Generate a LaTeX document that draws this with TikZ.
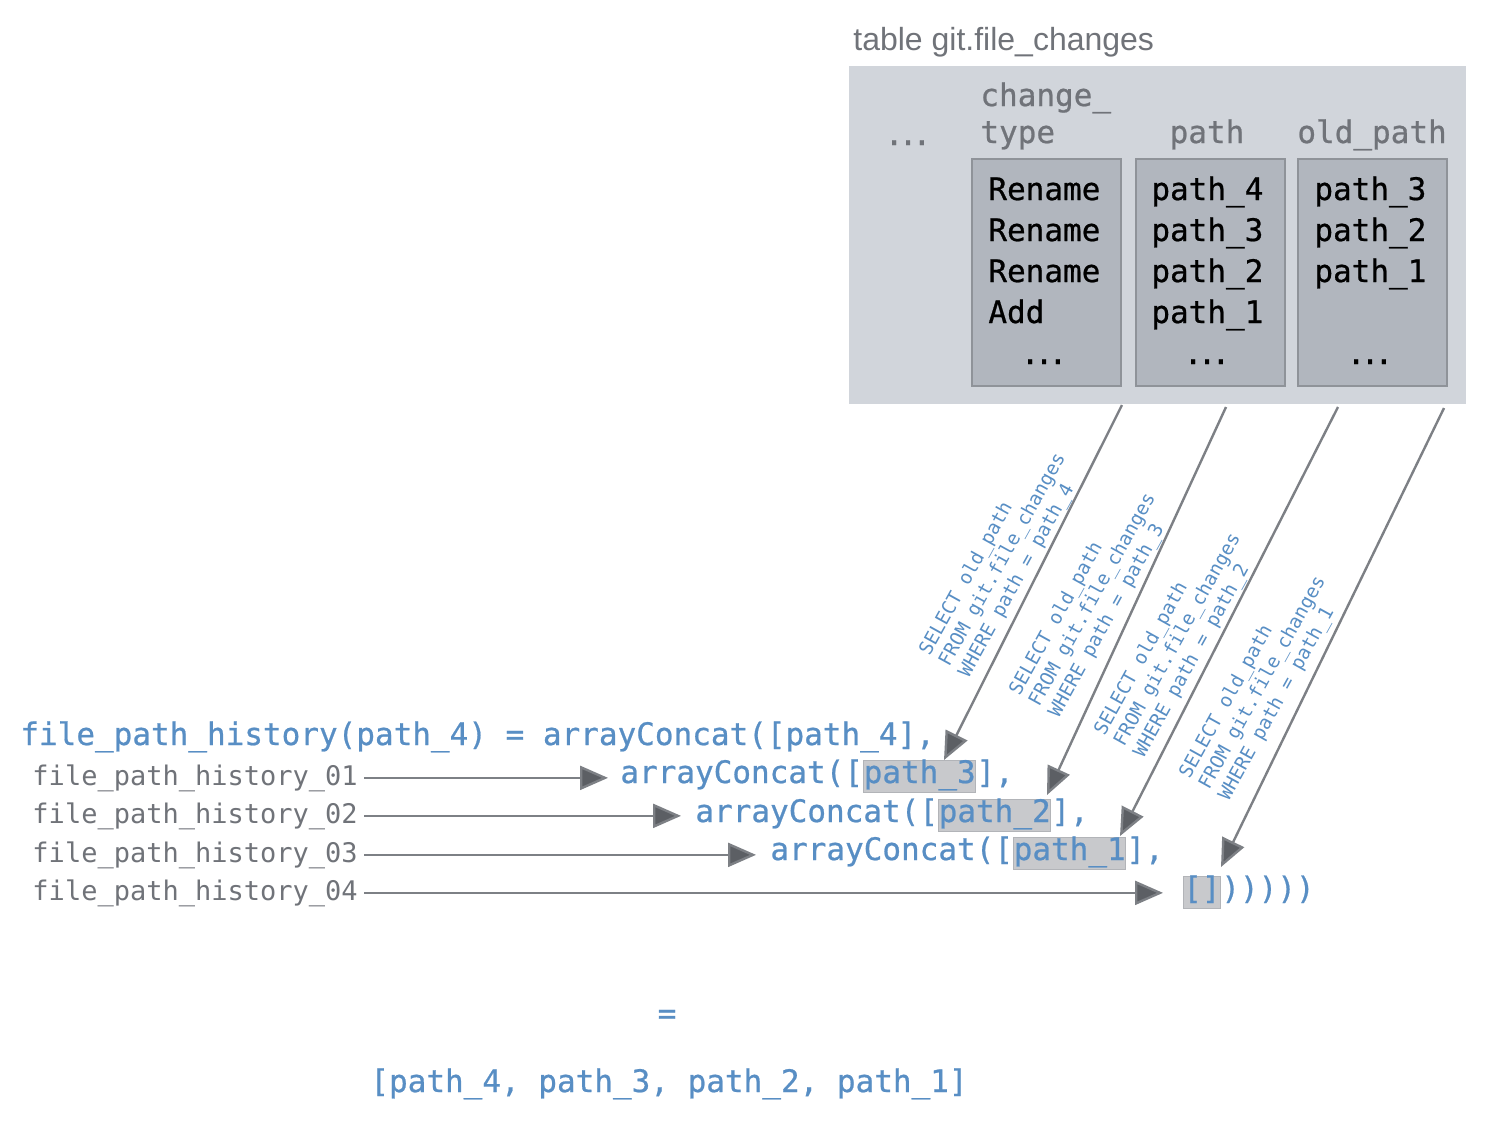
\documentclass[tikz,border=0pt]{standalone}
\usepackage{fontspec}
\setmainfont{Liberation Sans}
\newfontfamily\mono[FakeBold=0.7]{DejaVu Sans Mono}
\newfontfamily\monol{DejaVu Sans Mono}
\usetikzlibrary{arrows.meta}
\definecolor{bgc}{RGB}{209,213,219}
\definecolor{colc}{RGB}{177,182,190}
\definecolor{colb}{RGB}{143,147,153}
\definecolor{hdrc}{RGB}{112,115,121}
\definecolor{bluec}{RGB}{88,142,196}
\definecolor{hlc}{RGB}{200,201,204}
\definecolor{hlb}{RGB}{178,180,184}
\definecolor{linec}{RGB}{125,128,133}
\definecolor{headc}{RGB}{92,95,100}
\newcommand{\dotsx}{.\kern-2.4pt.\kern-2.4pt.}
\begin{document}
\begin{tikzpicture}[x=0.5pt,y=-0.5pt,
  big/.style={font=\mono\fontsize{15.5}{18}\selectfont, inner sep=0pt, anchor=base west},
  bluet/.style={big, text=bluec},
  hdr/.style={big, text=hdrc},
  cell/.style={big, text=black},
  lbl/.style={font=\monol\fontsize{13.5}{16}\selectfont, inner sep=0pt, anchor=base east, text=hdrc},
  hl/.style={bluet, fill=hlc, draw=hlb, line width=0.3pt, text height=11.5pt, text depth=4.5pt},
  colbox/.style={fill=colc, draw=colb, line width=0.8pt, anchor=north west, minimum width=74.5pt, minimum height=113.5pt, inner sep=0pt},
  sql/.style={font=\monol\fontsize{9.5}{11.2}\selectfont, text=bluec, align=left, inner sep=0pt, rotate=61},
  conn/.style={draw=linec, line width=1.2pt, -{Triangle[length=14pt,width=12pt,fill=headc]}},
]
\useasboundingbox (0,0) rectangle (1487,1121);

% table
\node[font=\fontsize{16}{19}\selectfont, text=hdrc, inner sep=0pt, anchor=base west] (title) at (853,50) {table git.file\_changes};
\node[fill=bgc, minimum width=308.5pt, minimum height=169pt, inner sep=0pt, anchor=north west] (tbl) at (849,66) {};
\node[colbox] (c1) at (971,158) {};
\node[colbox] (c2) at (1135,158) {};
\node[colbox] (c3) at (1297,158) {};

\node[hdr, anchor=base] (hdots) at (908,145) {\dotsx};
\node[hdr] (hct1) at (980,106) {change\_};
\node[hdr] (hct2) at (980,143) {type};
\node[hdr, anchor=base] (hpath) at (1207,143) {path};
\node[hdr] (hold) at (1297,143) {old\_path};

\node[cell] (r11) at (988,200) {Rename};
\node[cell] (r12) at (988,241) {Rename};
\node[cell] (r13) at (988,282) {Rename};
\node[cell] (r14) at (988,323) {Add};
\node[cell, anchor=base] (r15) at (1044,364) {\dotsx};

\node[cell] (r21) at (1151,200) {path\_4};
\node[cell] (r22) at (1151,241) {path\_3};
\node[cell] (r23) at (1151,282) {path\_2};
\node[cell] (r24) at (1151,323) {path\_1};
\node[cell, anchor=base] (r25) at (1207,364) {\dotsx};

\node[cell] (r31) at (1314,200) {path\_3};
\node[cell] (r32) at (1314,241) {path\_2};
\node[cell] (r33) at (1314,282) {path\_1};
\node[cell, anchor=base] (r35) at (1370,364) {\dotsx};

% expression
\node[bluet] (l0) at (20,745) {file\_path\_history(path\_4) = arrayConcat([path\_4],};

\node[bluet] (ac3) at (620,783) {arrayConcat([};
\node[hl] (hl3) at (ac3.base east) {path\_3};
\node[bluet] (t3) at (hl3.base east) {],};

\node[bluet] (ac2) at (695,822) {arrayConcat([};
\node[hl] (hl2) at (ac2.base east) {path\_2};
\node[bluet] (t2) at (hl2.base east) {],};

\node[bluet] (ac1) at (770,860) {arrayConcat([};
\node[hl] (hl1) at (ac1.base east) {path\_1};
\node[bluet] (t1) at (hl1.base east) {],};

\node[hl] (hl0) at (1183,899) {[]};
\node[bluet] (t0) at (hl0.base east) {)))))};

% labels
\node[lbl] (h01) at (358,785) {file\_path\_history\_01};
\node[lbl] (h02) at (358,823) {file\_path\_history\_02};
\node[lbl] (h03) at (358,862) {file\_path\_history\_03};
\node[lbl] (h04) at (358,900) {file\_path\_history\_04};

\draw[conn, shorten <=3pt, shorten >=6pt] (h01.east) -- (h01.east -| ac3.west);
\draw[conn, shorten <=3pt, shorten >=7pt] (h02.east) -- (h02.east -| ac2.west);
\draw[conn, shorten <=3pt, shorten >=7pt] (h03.east) -- (h03.east -| ac1.west);
\draw[conn, shorten <=3pt, shorten >=10pt] (h04.east) -- (h04.east -| hl0.west);

% diagonal connectors
\coordinate (s1) at (1122,405);
\coordinate (s2) at (1226,407);
\coordinate (s3) at (1338,407);
\coordinate (s4) at (1444,408);
\coordinate (e1) at (944,760);
\coordinate (e2) at (1047,795);
\coordinate (e3) at (1120,836);
\coordinate (e4) at (1221,867);
\draw[conn] (s1) -- (e1);
\draw[conn] (s2) -- (e2);
\draw[conn] (s3) -- (e3);
\draw[conn] (s4) -- (e4);

\node[sql] (q1) at (1003,560) {SELECT old\_path\\FROM git.file\_changes\\WHERE path = path\_4};
\node[sql] (q2) at (1093,600) {SELECT old\_path\\FROM git.file\_changes\\WHERE path = path\_3};
\node[sql] (q3) at (1178,640) {SELECT old\_path\\FROM git.file\_changes\\WHERE path = path\_2};
\node[sql] (q4) at (1263,683) {SELECT old\_path\\FROM git.file\_changes\\WHERE path = path\_1};

% result
\node[bluet, anchor=base] (eq) at (667,1024) {=};
\node[bluet] (res) at (370,1092) {[path\_4, path\_3, path\_2, path\_1]};
\end{tikzpicture}
\end{document}
